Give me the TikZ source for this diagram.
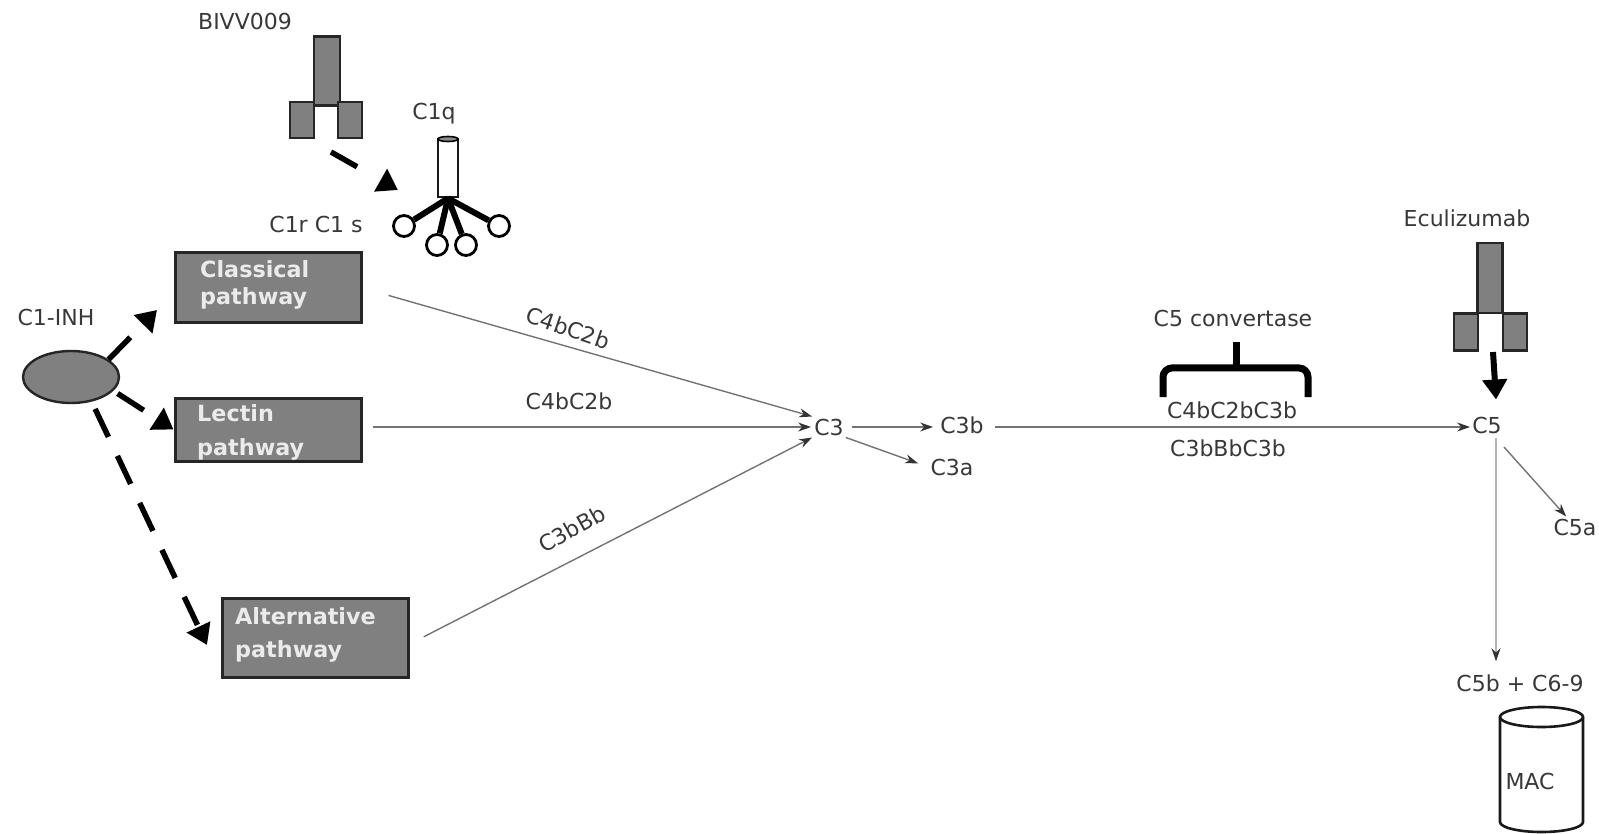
\documentclass[tikz,border=0pt]{standalone}
\usepackage{fontspec}
\setmainfont{DejaVu Sans}
\usetikzlibrary{arrows.meta,shapes.geometric}
\definecolor{barfill}{gray}{0.5}
\definecolor{labeltext}{gray}{0.22}
\tikzset{
  lbl/.style={font=\fontsize{22}{26}\selectfont, text=labeltext, inner sep=2pt},
  pathbox/.style={draw=black!85, fill=barfill, line width=3pt, inner sep=0pt},
  pathtext/.style={font=\fontsize{22.3}{28}\selectfont\bfseries, text=white!92!black, align=left, anchor=west, inner sep=0pt},
  antibar/.style={draw=black!85, fill=barfill, line width=2.6pt, inner sep=0pt, outer sep=0pt},
  flow/.style={draw=black!55, line width=1.4pt, -{Stealth[length=13pt,width=9pt,black!80]}},
  inhibit/.style={draw=black, line width=5.5pt, dash pattern=on 31pt off 21pt, -{Triangle[length=20pt,width=25pt]}},
  leg/.style={draw=black, line width=6pt},
  knob/.style={circle, draw=black, fill=white, line width=2.8pt, minimum size=21pt, inner sep=0pt},
  canpen/.style={draw=black!90, fill=white, line width=2.6pt}
}
\begin{document}
\begin{tikzpicture}[x=1pt,y=-1pt]
  \useasboundingbox (0,0) rectangle (1599,834);
  % BIVV009 and C1q
  \node[lbl] (bivvlabel) at (245,21) {BIVV009};
  \node[antibar, minimum width=26pt, minimum height=69pt] (bivvstem) at (327,71) {};
  \node[antibar, minimum width=24pt, minimum height=36pt] (bivvleft) at (302,120) {};
  \node[antibar, minimum width=24pt, minimum height=36pt] (bivvright) at (350,120) {};
  \node[lbl] (c1qlabel) at (434,113.5) {C1q};
  \node[canpen, inner sep=0pt, minimum width=20pt, minimum height=58pt] (c1qrod) at (448,168) {};
  \node[ellipse, draw=black, fill=black!45, line width=1.6pt, minimum width=20pt, minimum height=5pt, inner sep=0pt] (c1qcap) at (448,139) {};
  \node[lbl] (c1rs) at (316,224) {C1r C1 s};
  \node[knob] (knoba) at (404,226) {};
  \node[knob] (knobb) at (437,245) {};
  \node[knob] (knobc) at (466,245) {};
  \node[knob] (knobd) at (499,226) {};
  \draw[leg] (c1qrod.south) -- (knoba);
  \draw[leg] (c1qrod.south) -- (knobb);
  \draw[leg] (c1qrod.south) -- (knobc);
  \draw[leg] (c1qrod.south) -- (knobd);
  \coordinate (c1qin) at (398,190);
  \coordinate (bivvout) at (331,152);
  \draw[inhibit, dash pattern=on 30pt off 40pt] (bivvout) -- (c1qin);
  % pathways
  \node[pathbox, minimum width=186pt, minimum height=70pt] (classical) at (268,288) {};
  \node[pathtext] (classicaltext) at (200,285) {Classical\\[-1.5pt]pathway};
  \node[pathbox, minimum width=186pt, minimum height=63pt] (lectin) at (268,429.5) {};
  \node[pathtext] (lectintext) at (197,432) {Lectin\\[6pt]pathway};
  \node[pathbox, minimum width=186pt, minimum height=79pt] (alternative) at (315,637.5) {};
  \node[pathtext] (alternativetext) at (235,635) {Alternative\\[5pt]pathway};
  % C1-INH
  \node[lbl] (inhlabel) at (56,317) {C1-INH};
  \node[ellipse, draw=black!85, fill=barfill, line width=2.4pt, minimum width=96pt, minimum height=52pt, inner sep=0pt] (inh) at (71,377) {};
  \coordinate (classicalin) at (157,310);
  \coordinate (alternativein) at (207,645);
  \draw[inhibit] (inh.25) -- (classicalin);
  \draw[inhibit, shorten <=5pt] (inh.-18) -- (lectin.west);
  \draw[inhibit, shorten <=8pt] (inh.-50) -- (alternativein);
  % C3
  \node[lbl] (c3) at (829,427) {C3};
  \node[lbl] (c3b) at (962,425) {C3b};
  \node[lbl] (c3a) at (952,467) {C3a};
  \draw[flow, shorten <=27pt] (classical.east) -- (c3.north west);
  \draw[flow, shorten <=10pt, shorten >=1pt] (lectin.east |- c3) -- (c3.west);
  \draw[flow, shorten <=16pt] (alternative.-4) -- (c3.south west);
  \draw[flow, shorten <=6pt, shorten >=5pt] (c3.east) -- (c3.east -| c3b.west);
  \draw[flow, shorten >=11pt] (c3.south east) -- (c3a.west);
  \node[lbl, rotate=-19] (cl4b) at (568,328) {C4bC2b};
  \node[lbl] (le4b) at (569,401) {C4bC2b};
  \node[lbl, rotate=29] (alt3b) at (572,529) {C3bBb};
  % C5 convertase
  \node[lbl] (convlabel) at (1233,318) {C5 convertase};
  \draw[black, line width=7pt, rounded corners=9pt] (1163,397) -- (1163,368) -- (1308,368) -- (1308,397);
  \draw[black, line width=7pt] (1236,342) -- (1236,368);
  \node[lbl] (conva) at (1232,410) {C4bC2bC3b};
  \node[lbl] (convb) at (1228,448) {C3bBbC3b};
  \node[lbl] (c5) at (1487,425) {C5};
  \node[lbl] (c5a) at (1575,527) {C5a};
  \node[lbl] (c5b) at (1520,683) {C5b + C6-9};
  \coordinate (c5out) at (1504,447);
  \draw[flow, shorten <=9pt] (c3b.east |- c3) -- (c5.west |- c3);
  \draw[flow, draw=black!30, line width=2pt, shorten >=11pt] (1496,438) -- (c5b.north -| 1496,0);
  \draw[flow] (c5out) -- (c5a.130);
  % Eculizumab
  \node[lbl] (eculabel) at (1467,218) {Eculizumab};
  \node[antibar, minimum width=25pt, minimum height=70pt] (ecustem) at (1490,278) {};
  \node[antibar, minimum width=24pt, minimum height=37pt] (eculeft) at (1466,332) {};
  \node[antibar, minimum width=24pt, minimum height=37pt] (ecuright) at (1515,332) {};
  \coordinate (ecuout) at (1493,352);
  \draw[black, line width=6pt, shorten >=15pt, -{Triangle[length=20pt,width=24pt]}] (ecuout) -- (c5.north -| 1497,0);
  % MAC
  \draw[canpen] (1500,717) -- (1500,822) arc[start angle=180, end angle=360, x radius=41.5pt, y radius=10pt] -- (1583,717);
  \node[ellipse, canpen, minimum width=83pt, minimum height=20pt, inner sep=0pt] (mactop) at (1541.5,717) {};
  \node[lbl] (maclabel) at (1530,781) {MAC};
\end{tikzpicture}
\end{document}
